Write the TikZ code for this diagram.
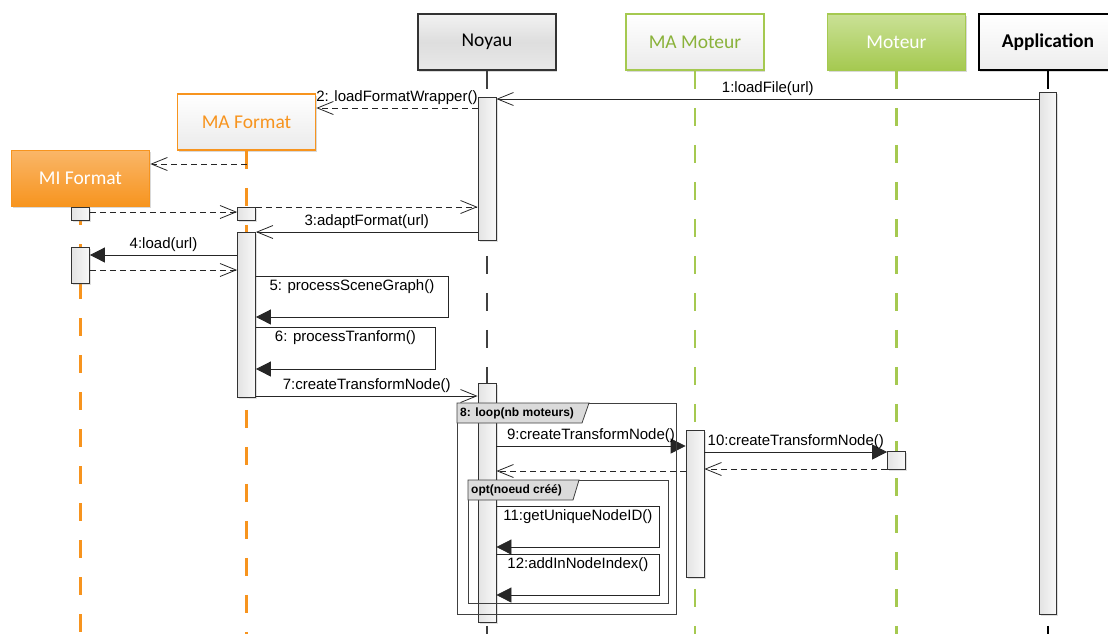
\documentclass[tikz,border=0pt]{standalone}
\usepackage{fontspec}
\setmainfont{Liberation Sans}
\newfontfamily\headfont{Carlito}
\usetikzlibrary{arrows.meta,shadows,positioning}

\definecolor{umlorange}{RGB}{247,148,30}
\definecolor{umlorangelt}{RGB}{250,182,104}
\definecolor{umlgreen}{RGB}{165,201,80}
\definecolor{umlgreenlt}{RGB}{202,225,150}
\definecolor{umlgreentxt}{RGB}{138,178,58}
\definecolor{lifegray}{RGB}{64,64,64}

\begin{document}
\begin{tikzpicture}[x=1pt,y=-1pt,->,>={Straight Barb[length=16pt,width=13pt]},
    head/.style={rectangle,draw,line width=1.6pt,minimum width=138pt,minimum height=56pt,
        font=\headfont\fontsize{19.5}{23}\selectfont,
        drop shadow={shadow xshift=1pt,shadow yshift=-1.5pt,opacity=0.3}},
    life/.style={-,line width=2.2pt,dash pattern=on 18pt off 19pt},
    act/.style={rectangle,draw=black!80,line width=0.8pt,inner sep=0pt,minimum width=18pt,
        left color=gray!22,right color=gray!5,
        drop shadow={shadow xshift=1.5pt,shadow yshift=-1.5pt,opacity=0.25}},
    msg/.style={draw=black!85,line width=0.8pt},
    call/.style={msg,-{Triangle[length=15pt,width=15pt]}},
    reply/.style={msg,dash pattern=on 6pt off 4pt},
    frame/.style={-,draw=black!75,line width=0.8pt},
    frametab/.style={font=\bfseries\fontsize{12}{14}\selectfont,inner sep=2pt,anchor=west}]

    \useasboundingbox (0,0) rectangle (1108,633);
    \clip (0,0) rectangle (1108,633);

    % participants
    \node[head,draw=black!80,top color=gray!10,bottom color=gray!18,middle color=gray!26] (noyau) at (487,42) {Noyau};
    \node[head,draw=umlgreen,text=umlgreentxt,top color=white,bottom color=gray!16] (mamot) at (695,42) {MA Moteur};
    \node[head,draw=umlgreen,text=white,top color=umlgreenlt,bottom color=umlgreen] (mot) at (896.5,42) {Moteur};
    \node[head,draw=black,top color=white,bottom color=gray!14] (app) at (1048,42) {\textbf{Application}};
    \node[head,draw=umlorange,text=umlorange,top color=white,bottom color=gray!16] (maf) at (246.5,122) {MA Format};
    \node[head,draw=umlorange,text=white,top color=umlorangelt,bottom color=umlorange] (mif) at (80.5,178.5) {MI Format};

    \coordinate (bot) at (0,640);

    % lifelines
    \draw[life,lifegray] (noyau.south) -- (noyau.south |- bot);
    \draw[life,umlgreen] (mamot.south) -- (mamot.south |- bot);
    \draw[life,umlgreen] (mot.south) -- (mot.south |- bot);
    \draw[life,black] (app.south) -- (app.south |- bot);
    \draw[life,umlorange] (maf.south) -- (maf.south |- bot);
    \draw[life,umlorange] (mif.south) -- (mif.south |- bot);

    % activations
    \node[act,minimum height=143pt] (an1) at (487,168.5) {};
    \node[act,minimum height=239pt] (an2) at (487,502.5) {};
    \node[act,minimum height=522pt,minimum width=17pt] (aapp) at (1048,353) {};
    \node[act,minimum height=13pt] (smif) at (80.5,213.5) {};
    \node[act,minimum height=13pt] (smaf) at (246.5,213.5) {};
    \node[act,minimum height=165pt] (amaf) at (246.5,314.5) {};
    \node[act,minimum height=36pt] (amif) at (80.5,265) {};
    \node[act,minimum height=147pt] (amam) at (695,503.5) {};
    \node[act,minimum height=18pt] (smot) at (896.5,460) {};

    \foreach \n/\y in {1/99,2/108,3/164,4/212,5/207,6/232,7/255,8/270,9/276,9b/317,
        10/327,10b/369,11/396,12/446,13/452,14/469,15/471,16/506,16b/547,17/554,17b/595}
        \coordinate (r\n) at (0,\y);

    % messages
    \path[every node/.style={font=\fontsize{15}{18}\selectfont}]
        (aapp.west |- r1) edge[msg] node[above]{1:loadFile(url)} (an1.east |- r1)
        (an1.west |- r2) edge[reply] node[above]{2: loadFormatWrapper()} (maf.east |- r2)
        (maf.south |- r3) edge[reply] (mif.east |- r3)
        (smif.east |- r4) edge[reply] (smaf.west |- r4)
        (smaf.east |- r5) edge[reply] (an1.west |- r5)
        (an1.west |- r6) edge[msg] node[above]{3:adaptFormat(url)} (amaf.east |- r6)
        (amaf.west |- r7) edge[call] node[above]{4:load(url)} (amif.east |- r7)
        (amif.east |- r8) edge[reply] (amaf.west |- r8)
        (amaf.east |- r11) edge[msg] node[above]{7:createTransformNode()} (an2.west |- r11)
        (an2.east |- r12) edge[call] node[above]{9:createTransformNode()} (amam.west |- r12)
        (amam.east |- r13) edge[call] node[above]{10:createTransformNode()} (smot.west |- r13)
        (smot.west |- r14) edge[reply] (amam.east |- r14)
        (amam.west |- r15) edge[reply] (an2.east |- r15);

    % self calls
    \begin{scope}[every node/.style={font=\fontsize{15}{18}\selectfont,below,inner sep=3pt}]
    \draw[call] (amaf.east |- r9) -- node{5: processSceneGraph()} ++(192,0) |- (amaf.east |- r9b);
    \draw[call] (amaf.east |- r10) -- node{6: processTranform()} ++(179,0) |- (amaf.east |- r10b);
    \draw[call] (an2.east |- r16) -- node{11:getUniqueNodeID()} ++(163,0) |- (an2.east |- r16b);
    \draw[call] (an2.east |- r17) -- node{12:addInNodeIndex()} ++(163,0) |- (an2.east |- r17b);
    \end{scope}

    % combined fragments
    \draw[frame] (457,403) rectangle (676,614);
    \draw[frame,fill=gray!28] (457,403) -- (589,403) -- (582,423) -- (457,423) -- cycle;
    \node[frametab] (looplbl) at (458,413) {8: loop(nb moteurs)};
    \draw[frame] (468,480) rectangle (668,603);
    \draw[frame,fill=gray!28] (468,480) -- (579,480) -- (573,500) -- (468,500) -- cycle;
    \node[frametab] (optlbl) at (469,490) {opt(noeud créé)};
\end{tikzpicture}
\end{document}
